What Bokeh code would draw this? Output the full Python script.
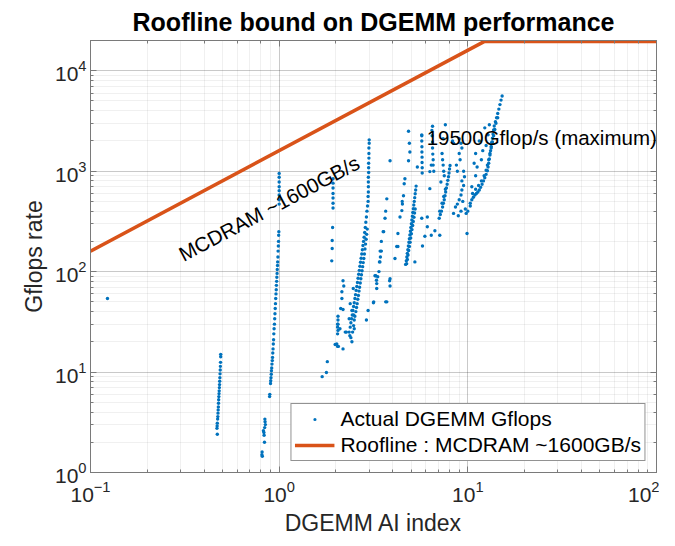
from bokeh.plotting import figure
from bokeh.models import LogAxis, Label, Legend, LegendItem, Range1d
from bokeh.embed import file_html
from bokeh.resources import INLINE

# ---- data ----
roof_x = [0.1, 12.19, 100.0]
roof_y = [160.0, 19500.0, 19500.0]

pts_a = [(0.123, 54)]
pts_b = [(0.490, 15.0), (0.490, 14.2), (0.489, 12.5), (0.488, 11.4), (0.487, 10.5), (0.486, 9.6),
         (0.485, 8.8), (0.484, 8.1), (0.483, 7.5), (0.482, 7.0), (0.481, 6.5), (0.480, 6.1),
         (0.479, 5.7), (0.478, 5.3), (0.477, 4.9), (0.476, 4.5), (0.475, 4.2), (0.474, 3.9),
         (0.473, 3.6), (0.472, 3.4), (0.470, 3.1), (0.469, 2.9), (0.468, 2.75), (0.470, 2.4)]
pts_c = [(0.840, 3.4), (0.842, 3.2), (0.845, 3.0), (0.838, 2.8), (0.825, 2.6), (0.830, 2.5),
         (0.832, 2.35), (0.836, 2.0), (0.812, 1.6), (0.810, 1.5), (0.814, 1.45)]
pts_d = [(0.890, 5.7), (0.892, 6.0), (0.900, 7.7), (0.902, 8.2), (0.905, 8.8), (0.908, 9.5),
         (0.910, 10.3), (0.913, 11.0), (0.916, 12.0), (0.920, 13.0), (0.922, 14.0), (0.925, 15.5),
         (0.928, 17.0), (0.931, 19.0), (0.934, 21.0), (0.937, 24.0), (0.940, 27.0), (0.944, 30.0),
         (0.947, 34.0), (0.950, 38.0), (0.953, 43.0), (0.956, 48.0), (0.959, 54.0), (0.962, 60.0),
         (0.965, 66.0), (0.967, 73.0), (0.970, 80.0), (0.972, 88.0), (0.975, 96.0), (0.977, 105.0),
         (0.980, 115.0), (0.982, 125.0), (0.985, 140.0), (0.987, 160.0), (0.990, 180.0),
         (0.992, 200.0), (0.994, 230.0), (0.996, 250.0), (1.000, 470.0), (1.000, 520.0),
         (1.000, 580.0), (1.000, 640.0), (1.000, 700.0), (1.000, 780.0), (1.000, 870.0), (1.000, 950.0)]
pts_e = [(1.69, 9.0), (1.78, 9.9), (1.80, 12.7), (1.98, 18.8), (2.04, 18.0), (2.05, 36), (2.05, 33),
         (2.05, 30), (2.04, 28), (2.05, 26), (2.04, 24), (1.93, 840), (1.93, 760), (1.93, 680),
         (1.93, 600), (1.93, 540), (1.93, 480), (1.93, 430), (1.92, 275), (1.91, 204), (1.91, 170),
         (1.90, 128)]
pts_f = [(2.35, 25), (2.38, 28), (2.40, 31), (2.42, 34), (2.44, 37), (2.46, 41), (2.48, 45), (2.50, 49),
         (2.52, 54), (2.54, 59), (2.56, 65), (2.58, 71), (2.60, 78), (2.62, 86), (2.64, 94), (2.66, 103),
         (2.68, 113), (2.70, 124), (2.72, 136), (2.74, 150), (2.76, 165), (2.78, 182), (2.80, 200),
         (2.82, 220), (2.84, 245), (2.86, 275), (2.88, 310), (2.90, 350), (2.92, 400), (2.94, 450),
         (2.45, 25), (2.48, 29), (2.50, 33), (2.52, 36), (2.55, 40), (2.57, 44), (2.59, 48), (2.61, 53),
         (2.63, 58), (2.65, 64), (2.67, 70), (2.69, 77), (2.71, 85), (2.73, 93), (2.75, 102), (2.77, 112),
         (2.79, 123), (2.81, 135), (2.83, 150), (2.85, 168), (2.87, 188), (2.89, 210), (2.91, 235),
         (2.93, 265), (2.40, 22), (2.43, 20), (2.37, 23), (2.50, 27),
         (2.96, 500), (2.96, 560), (2.97, 620), (2.97, 700), (2.97, 780), (2.97, 870), (2.98, 970),
         (2.98, 1080), (2.98, 1200), (2.99, 1350), (2.99, 1500), (2.99, 1700), (3.00, 1900), (3.00, 2050),
         (2.18, 81), (2.20, 72), (2.15, 63), (2.15, 54), (2.12, 43), (2.18, 42), (2.04, 30), (2.10, 27),
         (2.24, 25), (2.27, 25), (2.02, 19), (2.06, 18), (2.18, 17), (2.38, 48), (2.43, 41), (2.35, 34),
         (2.48, 37), (2.47, 68)]
pts_g = [(3.87, 1270), (3.72, 530), (3.67, 400), (3.64, 340), (3.58, 250), (3.48, 160), (3.44, 140),
         (3.42, 125), (3.38, 100), (3.33, 89), (3.25, 91), (3.29, 76), (3.29, 68), (3.17, 50), (3.67, 50),
         (3.85, 81), (3.87, 72), (2.96, 41), (2.90, 33), (4.26, 240), (4.26, 178), (3.56, 250),
         (3.48, 200), (3.43, 160), (3.40, 125), (3.22, 91), (3.28, 82), (3.87, 85), (3.72, 50),
         (3.16, 49), (4.37, 350), (4.11, 135), (4.49, 500)]
pts_h = [(4.85, 2500), (4.90, 1900), (4.93, 1550), (4.85, 1270), (4.64, 840), (4.60, 750), (4.56, 570),
         (4.50, 470), (4.47, 405), (4.20, 178),
         (4.68, 118), (4.72, 128), (4.75, 140), (4.78, 152), (4.81, 165), (4.84, 180), (4.87, 196),
         (4.90, 213), (4.93, 232), (4.96, 252), (4.99, 275), (5.02, 300), (5.05, 327), (5.08, 356),
         (5.11, 388), (5.14, 422), (5.17, 460), (5.20, 500), (5.23, 545), (5.26, 595), (5.29, 650),
         (5.32, 710), (4.74, 120), (4.78, 132), (4.82, 146), (4.86, 162), (4.90, 178), (4.94, 196),
         (4.98, 216), (5.02, 238), (5.06, 262), (5.10, 288), (5.14, 316), (5.18, 348), (5.22, 383),
         (5.26, 420),
         (5.70, 2300), (5.70, 2000), (5.71, 1750), (5.71, 1550), (5.72, 1380), (5.72, 1220), (5.73, 1080),
         (5.73, 960), (5.40, 1100), (6.29, 990), (6.40, 1150), (6.29, 670), (6.10, 350), (5.70, 340),
         (6.10, 280), (5.92, 225), (6.40, 230), (5.75, 180), (6.69, 255), (7.10, 230), (5.24, 125)]
pts_i = [(7.05, 340), (7.15, 370), (7.25, 400), (7.35, 440), (7.42, 480), (7.50, 520), (7.57, 570),
         (7.63, 620), (7.70, 680), (7.77, 740), (7.83, 810), (7.90, 880), (7.95, 960), (8.00, 1050),
         (8.05, 1140), (7.10, 400), (7.30, 480), (7.45, 560), (7.60, 660),
         (6.45, 2550), (6.47, 2250), (6.50, 1950), (6.50, 1700), (6.52, 1480), (6.55, 1300),
         (6.55, 1150), (6.60, 1000), (7.30, 1500), (7.35, 1300), (7.40, 1150), (7.45, 1000),
         (7.50, 900), (7.20, 780), (6.50, 2800), (7.60, 2900), (8.30, 2000), (5.70, 2250),
         (7.40, 2100), (8.40, 1900)]
pts_j = [(9.0, 2100), (9.2, 1900), (9.3, 1700), (9.0, 1500), (9.1, 1300), (8.7, 1150), (8.8, 1000),
         (9.5, 1000), (9.6, 880), (9.3, 800), (9.5, 720), (9.3, 650), (9.2, 580), (9.0, 520), (9.4, 500),
         (8.8, 470), (8.6, 440), (9.7, 420), (9.2, 400), (9.8, 380), (10.0, 400), (10.3, 450),
         (9.9, 240), (8.4, 380), (8.9, 360)]
pts_k = [(10.3, 480), (10.5, 520), (10.7, 550), (10.9, 580), (11.1, 600), (11.3, 620), (11.5, 650),
         (11.7, 690), (11.9, 740), (12.1, 800), (12.3, 860), (12.5, 930), (12.7, 1010), (12.8, 1100),
         (12.9, 1200), (13.0, 1320), (13.1, 1450), (13.2, 1600), (13.3, 1760), (13.4, 1940),
         (13.5, 2130), (13.6, 2340), (13.7, 2570), (13.8, 2820), (14.0, 3100), (14.2, 3400),
         (14.4, 3750), (14.6, 4150), (14.8, 4600), (15.0, 5100), (15.2, 5600),
         (10.6, 600), (11.0, 660), (11.4, 720), (11.8, 800), (12.2, 900), (12.5, 1020), (12.7, 1150),
         (12.9, 1300), (13.1, 1500), (13.3, 1700), (13.5, 1950), (13.7, 2250), (13.9, 2600),
         (14.1, 3000), (14.4, 3400),
         (10.5, 700), (11.0, 900), (11.2, 1100), (11.8, 1300), (12.0, 1600), (12.5, 1800),
         (11.5, 2000), (12.8, 2300), (11.0, 1500), (10.8, 1200), (12.3, 2700), (13.0, 2900)]

clusters = [pts_a, pts_b, pts_c, pts_d, pts_e, pts_f, pts_g, pts_h, pts_i, pts_j, pts_k]
dgemm_x = [p[0] for c in clusters for p in c]
dgemm_y = [p[1] for c in clusters for p in c]

BLUE = "#0072BD"
ORANGE = "#D95319"
FONT = "Liberation Sans"
AXC = "#7a7a7a"

p = figure(frame_width=566, frame_height=432, x_axis_type="log", y_axis_type="log",
           x_range=Range1d(0.1, 100), y_range=Range1d(1, 20000),
           output_backend="svg", toolbar_location=None,
           min_border_left=90, min_border_right=3, min_border_top=34, min_border_bottom=64,
           title="Roofline bound on DGEMM performance")
p.title.text_font = FONT
p.title.text_font_size = "25px"
p.title.text_font_style = "bold"
p.title.align = "center"
p.title.text_color = "#000000"

p.background_fill_color = "white"
p.border_fill_color = "white"
p.outline_line_color = AXC

sc = p.scatter(dgemm_x, dgemm_y, size=3.4, color=BLUE, line_color=None)
ln = p.line(roof_x, roof_y, line_color=ORANGE, line_width=3.5)

for ax in (p.xaxis[0], p.yaxis[0]):
    ax.major_label_text_font = FONT
    ax.major_label_text_font_size = "21px"
    ax.major_label_text_color = "#262626"
    ax.axis_label_text_font = FONT
    ax.axis_label_text_font_size = "23px"
    ax.axis_label_text_font_style = "normal"
    ax.axis_label_text_color = "#262626"
    ax.axis_line_color = AXC
    ax.major_tick_in = 6
    ax.major_tick_out = 0
    ax.minor_tick_in = 3
    ax.minor_tick_out = 0
    ax.major_tick_line_color = AXC
    ax.minor_tick_line_color = AXC
p.xaxis[0].axis_label = "DGEMM AI index"
p.yaxis[0].axis_label = "Gflops rate"
p.xaxis[0].major_label_standoff = 8
p.yaxis[0].major_label_standoff = 4

for loc in ("above", "right"):
    ax = LogAxis()
    ax.major_label_text_font_size = "2px"
    ax.major_label_text_alpha = 0.0
    ax.major_label_standoff = 0
    ax.axis_line_color = AXC
    ax.major_tick_in = 6
    ax.major_tick_out = 0
    ax.minor_tick_in = 3
    ax.minor_tick_out = 0
    ax.major_tick_line_color = AXC
    ax.minor_tick_line_color = AXC
    p.add_layout(ax, loc)

p.grid.grid_line_color = "#262626"
p.grid.grid_line_alpha = 0.13
p.grid.minor_grid_line_color = "#262626"
p.grid.minor_grid_line_alpha = 0.07

p.add_layout(Label(x=0.299, y=145, text="MCDRAM ~1600GB/s", angle=28.0, angle_units="deg",
                   text_font=FONT, text_font_size="20.5px", text_color="#000000",
                   text_baseline="alphabetic", text_align="left"))
p.add_layout(Label(x=6.05, y=2155, text="19500Gflop/s (maximum)",
                   text_font=FONT, text_font_size="20.5px", text_color="#000000",
                   text_baseline="alphabetic", text_align="left"))

legend = Legend(items=[LegendItem(label="Actual DGEMM Gflops", renderers=[sc]),
                       LegendItem(label="Roofline : MCDRAM ~1600GB/s", renderers=[ln])],
                location="bottom_right")
legend.label_text_font = FONT
legend.label_text_font_size = "21px"
legend.label_text_color = "#000000"
legend.glyph_width = 40
legend.glyph_height = 8
legend.label_height = 24
legend.label_standoff = 6
legend.padding = 3
legend.spacing = 2
legend.margin = 11
legend.border_line_color = "#262626"
legend.border_line_width = 1
legend.background_fill_color = "white"
legend.background_fill_alpha = 1.0
p.add_layout(legend)

open("out.html", "w").write(file_html(p, INLINE))
